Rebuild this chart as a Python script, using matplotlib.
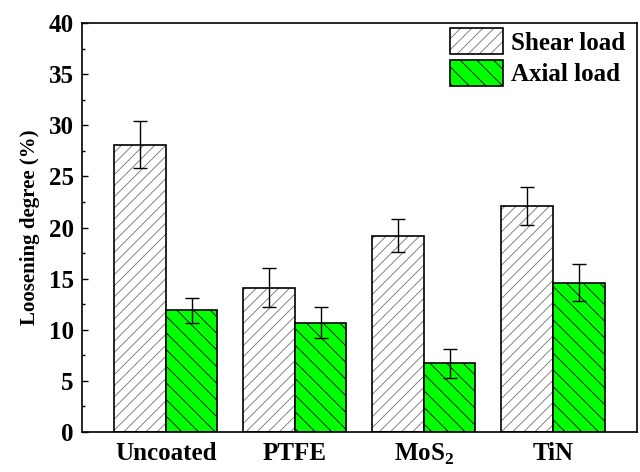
import matplotlib
matplotlib.use('Agg')
import matplotlib.pyplot as plt
from matplotlib.patches import Patch
from matplotlib.ticker import MultipleLocator
import numpy as np

plt.rcParams['font.family'] = ['Liberation Serif', 'DejaVu Serif']
plt.rcParams['font.weight'] = 'bold'
plt.rcParams['hatch.linewidth'] = 0.6
plt.rcParams['mathtext.fontset'] = 'custom'
plt.rcParams['mathtext.rm'] = 'Liberation Serif:bold'
plt.rcParams['mathtext.bf'] = 'Liberation Serif:bold'

coatings = ['Uncoated', 'PTFE', r'MoS$_\mathregular{2}$', 'TiN']
shear_load = [28.1, 14.1, 19.2, 22.1]
shear_err = [2.3, 1.9, 1.6, 1.9]
axial_load = [11.9, 10.7, 6.7, 14.6]
axial_err = [1.2, 1.5, 1.4, 1.8]

x = np.arange(1, len(coatings) + 1)
w = 0.4

fig = plt.figure(figsize=(6.4, 4.72), dpi=100)
ax = fig.add_axes([0.128, 0.085, 0.867, 0.866])

# shear bars: grey hatch under a black outline
shear_fill = ax.bar(x - w / 2, shear_load, w, color='white', edgecolor='#707070',
                    hatch='///', linewidth=0)
shear_edge = ax.bar(x - w / 2, shear_load, w, fill=False, edgecolor='black', linewidth=1.2)
axial = ax.bar(x + w / 2, axial_load, w, color='#00ff00', edgecolor='black',
               hatch='\\\\', linewidth=1.2)

ax.errorbar(x - w / 2, shear_load, yerr=shear_err, fmt='none', ecolor='black',
            elinewidth=1, capsize=5, capthick=1)
ax.errorbar(x + w / 2, axial_load, yerr=axial_err, fmt='none', ecolor='black',
            elinewidth=1, capsize=5, capthick=1)

ax.set_xlim(0.35, 4.65)
ax.set_ylim(0, 40)
ax.set_xticks(x)
ax.set_xticklabels(coatings, fontsize=18, fontweight='bold')
ax.yaxis.set_major_locator(MultipleLocator(5))
ax.yaxis.set_minor_locator(MultipleLocator(2.5))
ax.tick_params(axis='y', which='major', direction='in', length=4, width=1,
               labelsize=18, right=False, pad=6)
ax.tick_params(axis='y', which='minor', direction='in', length=2.5, width=1, right=False)
ax.tick_params(axis='x', length=0, pad=7)
for lbl in ax.get_yticklabels():
    lbl.set_fontweight('bold')
ax.set_ylabel('Loosening degree (%)', fontsize=15, fontweight='bold', labelpad=6)
for s in ax.spines.values():
    s.set_linewidth(1.2)

shear_handle = (Patch(facecolor='white', edgecolor='#707070', hatch='///', linewidth=0),
                Patch(fill=False, edgecolor='black', linewidth=1.2))
axial_handle = Patch(facecolor='#00ff00', edgecolor='black', hatch='\\\\', linewidth=1.2)
leg = ax.legend([shear_handle, axial_handle], ['Shear load', 'Axial load'],
                loc='upper left', bbox_to_anchor=(450 / 640, 1 - 28 / 472),
                bbox_transform=fig.transFigure, frameon=False, borderpad=0,
                borderaxespad=0, prop={'size': 18, 'weight': 'bold'},
                handlelength=2.1, handleheight=1.25, handletextpad=0.35,
                labelspacing=0.2)

fig.savefig('out.png', dpi=100)
